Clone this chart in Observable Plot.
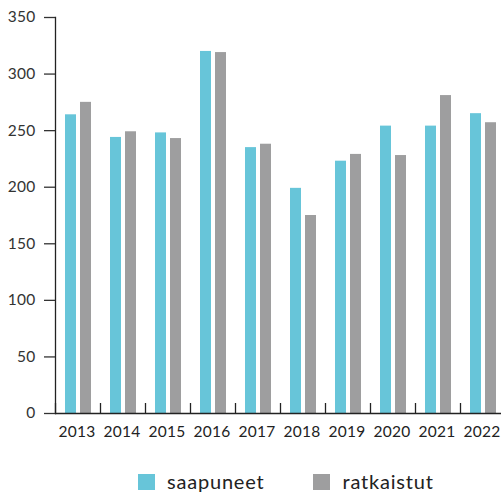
<!DOCTYPE html>
<html>
<head>
<meta charset="utf-8">
<script src="https://cdn.jsdelivr.net/npm/d3@7"></script>
<script src="https://cdn.jsdelivr.net/npm/@observablehq/plot@0.6"></script>
<style>
  html, body { margin: 0; padding: 0; background: #fff; }
  body { width: 501px; height: 492px; overflow: hidden; font-family: Lato, sans-serif; }
  #chart svg { display: block; }
  #legend { display: flex; align-items: center; height: 17px; margin-top: 18px; margin-left: 138px; font-size: 20px; line-height: 17px; color: #222; letter-spacing: 0.8px; }
  .sw { width: 17px; height: 16px; display: inline-block; }
  .item { display: flex; align-items: center; }
  .item span.lbl { margin-left: 12px; }
</style>
</head>
<body>
<div id="chart"></div>
<div id="legend"></div>
<script>
const years = ["2013","2014","2015","2016","2017","2018","2019","2020","2021","2022"];
const saapuneet = [264, 244, 248, 320, 235, 199, 223, 254, 254, 265];
const ratkaistut = [275, 249, 243, 319, 238, 175, 229, 228, 281, 257];
const yTicks = [0, 50, 100, 150, 200, 250, 300, 350];
const seriesNames = ["saapuneet", "ratkaistut"];
const colors = ["#67c5d9", "#9e9e9f"];

const dataS = years.map((y, i) => ({year: y, value: saapuneet[i]}));
const dataR = years.map((y, i) => ({year: y, value: ratkaistut[i]}));

const chart = Plot.plot({
  width: 501,
  height: 455,
  marginLeft: 55,
  marginRight: 0,
  marginTop: 17,
  marginBottom: 42,
  style: {fontFamily: "Lato, sans-serif", fontSize: "15.5px", color: "#333", letterSpacing: "0.3px"},
  x: {type: "band", domain: years, range: [55, 505], padding: 0},
  y: {domain: [0, 350]},
  marks: [
    Plot.barY(dataS, {x: "year", y: "value", fill: colors[0], insetLeft: 10, insetRight: 24}),
    Plot.barY(dataR, {x: "year", y: "value", fill: colors[1], insetLeft: 25, insetRight: 9}),
    Plot.ruleX(years, {x: d => d, dx: -22.5, insetTop: 386, stroke: "#222", strokeWidth: 1.3}),
    Plot.ruleY([0], {stroke: "#222", strokeWidth: 1.3}),
    Plot.frame({anchor: "left", stroke: "#222", strokeWidth: 1.3}),
    Plot.axisY({ticks: yTicks, tickSize: 11, tickPadding: 9, stroke: "#333", strokeWidth: 1.3, fill: "#333", label: null}),
    Plot.axisX({tickSize: 0, tickPadding: 12, dx: -1, fill: "#222", label: null})
  ]
});
document.getElementById("chart").appendChild(chart);

const legend = document.getElementById("legend");
seriesNames.forEach((name, i) => {
  const item = document.createElement("div");
  item.className = "item";
  if (i > 0) item.style.marginLeft = "49px";
  const sw = document.createElement("span");
  sw.className = "sw";
  sw.style.background = colors[i];
  const lbl = document.createElement("span");
  lbl.className = "lbl";
  lbl.textContent = name;
  item.appendChild(sw);
  item.appendChild(lbl);
  legend.appendChild(item);
});
</script>
</body>
</html>
